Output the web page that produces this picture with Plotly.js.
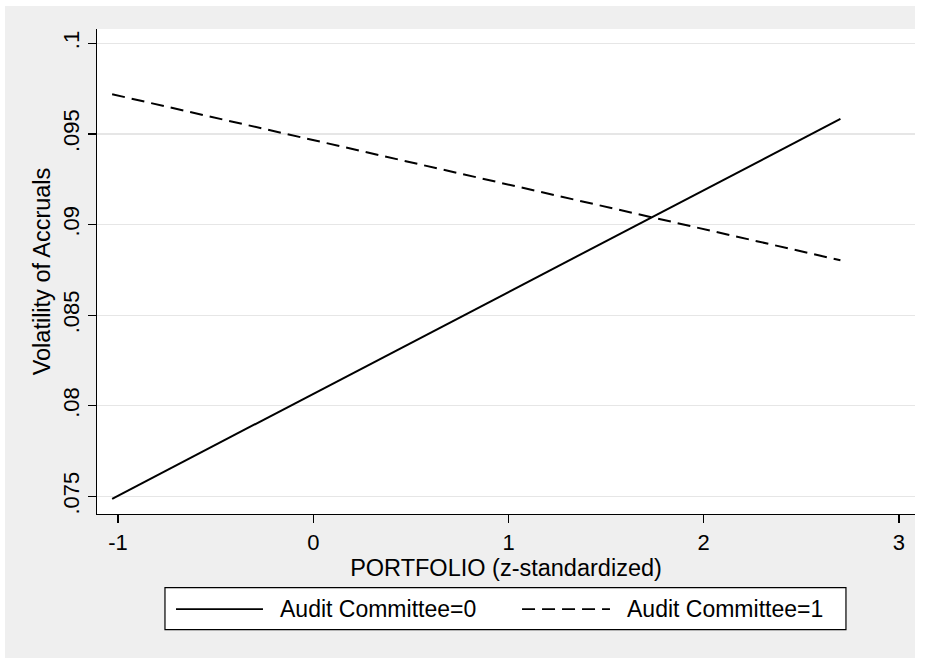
<!DOCTYPE html>
<html>
<head>
<meta charset="utf-8">
<script src="https://cdn.plot.ly/plotly-3.0.1.min.js"></script>
<style>
  html, body { margin: 0; padding: 0; background: #ffffff; }
  #chart { width: 928px; height: 658px; }
</style>
</head>
<body>
<div id="chart"></div>
<script>
// ---- data ----
const seriesNames = ["Audit Committee=0", "Audit Committee=1"];
const portfolioX = [-1.03, 2.70];
const committee0 = [0.07487, 0.09583];
const committee1 = [0.09719, 0.08803];
const xTickVals = [-1, 0, 1, 2, 3];
const xTickText = ["-1", "0", "1", "2", "3"];
const yTickVals = [0.075, 0.08, 0.085, 0.09, 0.095, 0.1];
const yTickText = [".075", ".08", ".085", ".09", ".095", ".1"];

const FONT = '"Liberation Sans", Arial, Helvetica, sans-serif';

const traces = [
  {
    x: portfolioX, y: committee0, name: seriesNames[0],
    type: 'scatter', mode: 'lines', showlegend: false,
    line: { color: '#000000', width: 2, dash: 'solid' }
  },
  {
    x: portfolioX, y: committee1, name: seriesNames[1],
    type: 'scatter', mode: 'lines', showlegend: false,
    line: { color: '#000000', width: 2, dash: '13px,7px' }
  }
];

const legendY = -0.1962;
const layout = {
  width: 928, height: 658,
  margin: { l: 97, r: 13, t: 29, b: 144 },
  paper_bgcolor: '#ffffff',
  plot_bgcolor: 'rgba(0,0,0,0)',
  font: { family: FONT, color: '#000000', size: 22 },
  showlegend: false,
  xaxis: {
    range: [-1.1076, 3.082],
    tickmode: 'array', tickvals: xTickVals, ticktext: xTickText,
    ticks: 'outside', ticklen: 8, tickwidth: 1.2, tickcolor: '#000000',
    showline: true, linecolor: '#000000', linewidth: 1.3,
    showgrid: false, zeroline: false,
    tickfont: { family: FONT, size: 22, color: '#000000' },
    title: { text: 'PORTFOLIO (z-standardized)', font: { family: FONT, size: 23.5, color: '#000000' }, standoff: 3 }
  },
  yaxis: {
    range: [0.07403, 0.10079],
    tickmode: 'array', tickvals: yTickVals, ticktext: yTickText,
    tickangle: -90,
    ticks: 'outside', ticklen: 8, tickwidth: 1.2, tickcolor: '#000000',
    showline: true, linecolor: '#000000', linewidth: 1.3,
    showgrid: true, gridcolor: '#e6e6e6', gridwidth: 1.3, zeroline: false,
    tickfont: { family: FONT, size: 22, color: '#000000' },
    title: { text: 'Volatility of Accruals', font: { family: FONT, size: 23.5, color: '#000000' }, standoff: 1 }
  },
  shapes: [
    // outer gray graph region
    { type: 'rect', xref: 'paper', yref: 'paper', x0: -0.1125, x1: 1.0, y0: -0.32, y1: 1.0474,
      fillcolor: '#efefef', line: { width: 0 }, layer: 'below' },
    // white plot region
    { type: 'rect', xref: 'paper', yref: 'paper', x0: 0, x1: 1, y0: 0, y1: 1,
      fillcolor: '#ffffff', line: { width: 0 }, layer: 'below' },
    // legend box
    { type: 'rect', xref: 'paper', yref: 'paper', x0: 0.0831, x1: 0.9156, y0: -0.2384, y1: -0.1519,
      fillcolor: '#ffffff', line: { color: '#000000', width: 1.2 } },
    // legend samples
    { type: 'line', xref: 'paper', yref: 'paper', x0: 0.0966, x1: 0.2029, y0: legendY, y1: legendY,
      line: { color: '#000000', width: 1.6, dash: 'solid' } },
    { type: 'line', xref: 'paper', yref: 'paper', x0: 0.5196, x1: 0.6271, y0: legendY, y1: legendY,
      line: { color: '#000000', width: 1.6, dash: '13px,7px' } }
  ],
  annotations: [
    { xref: 'paper', yref: 'paper', x: 0.2213, y: legendY, xanchor: 'left', yanchor: 'middle',
      text: seriesNames[0], showarrow: false, font: { family: FONT, size: 23, color: '#000000' } },
    { xref: 'paper', yref: 'paper', x: 0.6455, y: legendY, xanchor: 'left', yanchor: 'middle',
      text: seriesNames[1], showarrow: false, font: { family: FONT, size: 23, color: '#000000' } }
  ]
};

Plotly.newPlot('chart', traces, layout, { displayModeBar: false, staticPlot: true });
</script>
</body>
</html>
